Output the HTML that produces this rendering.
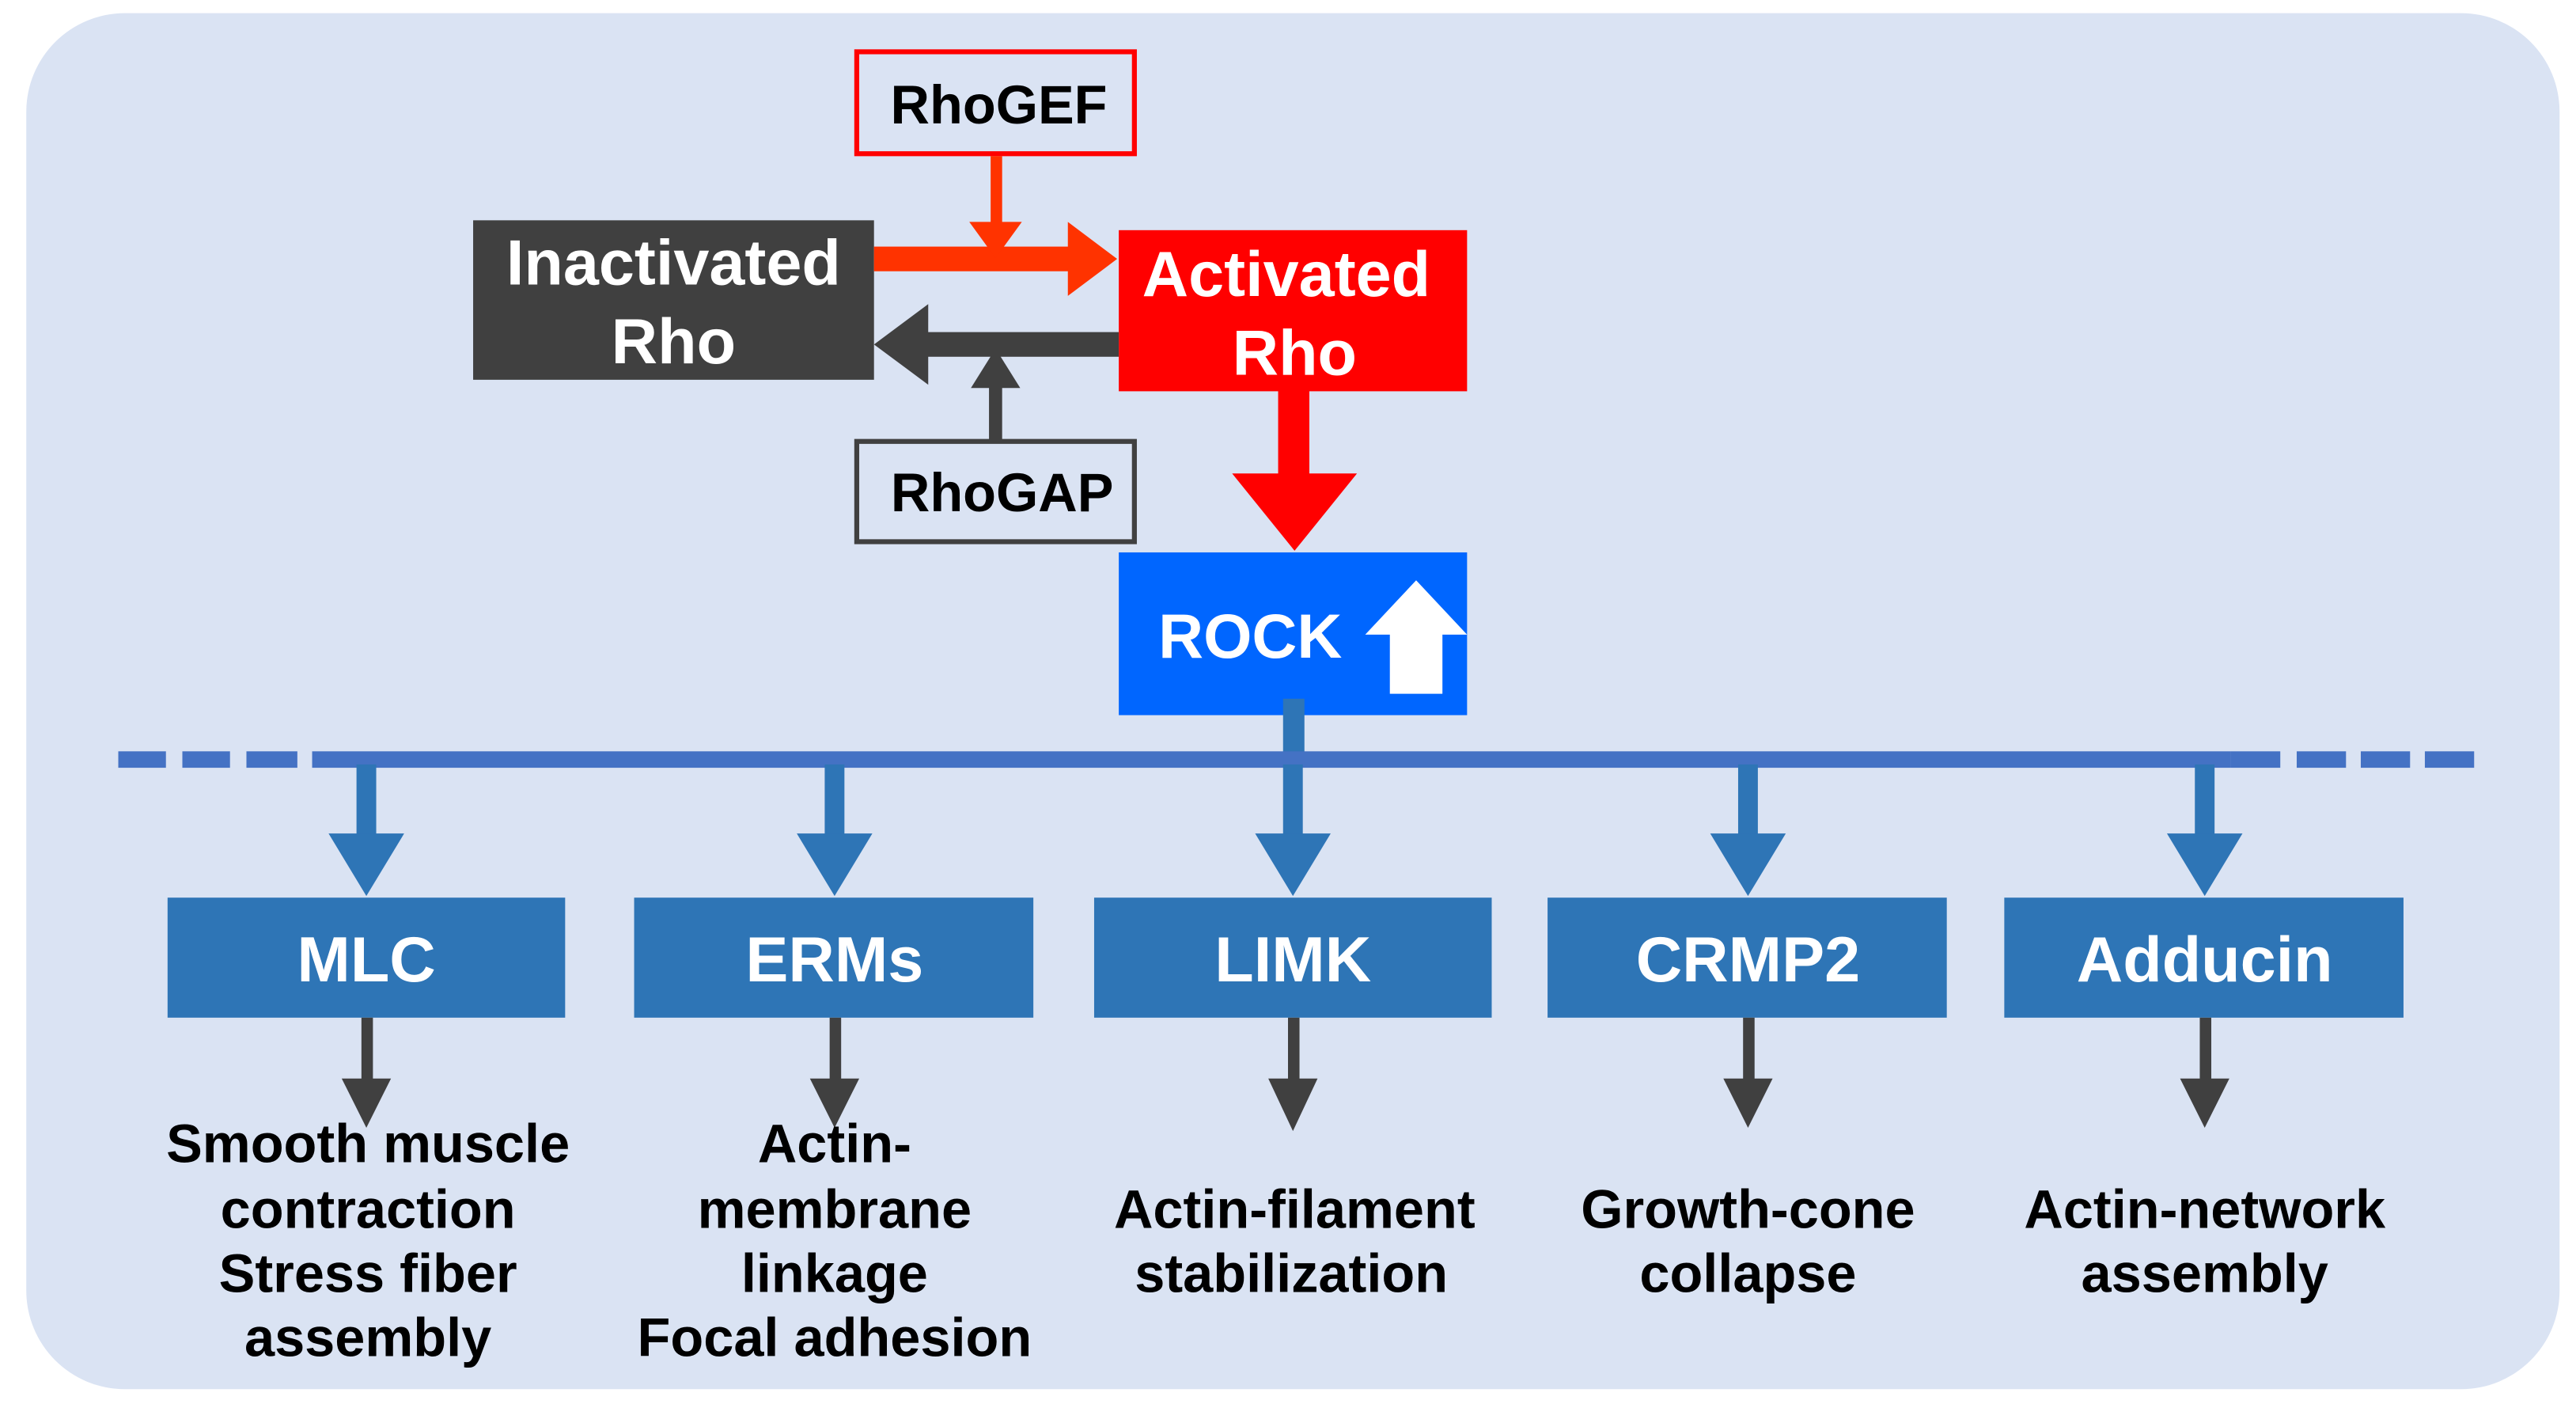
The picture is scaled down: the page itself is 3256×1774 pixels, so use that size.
<!DOCTYPE html>
<html><head><meta charset="utf-8"><style>html,body{margin:0;padding:0;background:#fff}svg{display:block}</style></head>
<body>
<svg width="3256" height="1774" viewBox="0 0 1568 854" preserveAspectRatio="none" xmlns="http://www.w3.org/2000/svg" font-family="'Liberation Sans', Arial, sans-serif" font-weight="bold">
<rect x="16" y="8" width="1542" height="837" rx="60" fill="#dae3f3"/>
<!-- RhoGEF -->
<rect x="521.5" y="31.5" width="169" height="62" fill="#dae3f3" stroke="#ff0000" stroke-width="3"/>
<text x="608" y="75" font-size="33" text-anchor="middle" fill="#000">RhoGEF</text>
<!-- Inactivated Rho -->
<rect x="288" y="134" width="244" height="97" fill="#404040"/>
<text x="410" y="173" font-size="39" text-anchor="middle" fill="#fff">Inactivated</text>
<text x="410" y="221" font-size="39" text-anchor="middle" fill="#fff">Rho</text>
<!-- Activated Rho -->
<rect x="681" y="140" width="212" height="98" fill="#ff0000"/>
<text x="783" y="180" font-size="39" text-anchor="middle" fill="#fff">Activated</text>
<text x="788" y="228" font-size="39" text-anchor="middle" fill="#fff">Rho</text>
<!-- orange arrow -->
<rect x="532" y="150" width="120" height="15" fill="#ff3300"/>
<polygon points="650,135 680,157.5 650,180" fill="#ff3300"/>
<rect x="603" y="95" width="7" height="42" fill="#ff3300"/>
<polygon points="590,135 622,135 606,157" fill="#ff3300"/>
<!-- dark arrow -->
<rect x="563" y="202" width="118" height="15" fill="#404040"/>
<polygon points="565,185 532,209.5 565,234" fill="#404040"/>
<rect x="602" y="233" width="8" height="36" fill="#404040"/>
<polygon points="591,236 621,236 606,212" fill="#404040"/>
<!-- RhoGAP -->
<rect x="521.5" y="268.5" width="169" height="61" fill="#dae3f3" stroke="#404040" stroke-width="3"/>
<text x="610" y="311" font-size="33" text-anchor="middle" fill="#000">RhoGAP</text>
<!-- red down arrow -->
<rect x="778" y="236" width="19" height="54" fill="#ff0000"/>
<polygon points="750,288 826,288 788,335" fill="#ff0000"/>
<!-- ROCK -->
<rect x="681" y="336" width="212" height="99" fill="#0066ff"/>
<text x="761" y="400" font-size="38" text-anchor="middle" fill="#fff">ROCK</text>
<rect x="846" y="384" width="32" height="38" fill="#fff"/>
<polygon points="831,386 893,386 862,353" fill="#fff"/>
<!-- stem -->
<rect x="781" y="425" width="13" height="38" fill="#2e75b6"/>
<!-- horizontal line -->
<g fill="#4472c4">
<rect x="72" y="457" width="29" height="10"/>
<rect x="111" y="457" width="29" height="10"/>
<rect x="150" y="457" width="31" height="10"/>
<rect x="190" y="457" width="1168" height="10"/>
<rect x="1358" y="457" width="30" height="10"/>
<rect x="1398" y="457" width="30" height="10"/>
<rect x="1437" y="457" width="30" height="10"/>
<rect x="1476" y="457" width="30" height="10"/>
</g>
<!-- branches -->
<g fill="#2e75b6">
<rect x="217" y="465" width="12" height="44"/><polygon points="200,507 246,507 223,545"/>
<rect x="502" y="465" width="12" height="44"/><polygon points="485,507 531,507 508,545"/>
<rect x="781" y="465" width="12" height="44"/><polygon points="764,507 810,507 787,545"/>
<rect x="1058" y="465" width="12" height="44"/><polygon points="1041,507 1087,507 1064,545"/>
<rect x="1336" y="465" width="12" height="44"/><polygon points="1319,507 1365,507 1342,545"/>
<rect x="102" y="546" width="242" height="73"/>
<rect x="386" y="546" width="243" height="73"/>
<rect x="666" y="546" width="242" height="73"/>
<rect x="942" y="546" width="243" height="73"/>
<rect x="1220" y="546" width="243" height="73"/>
</g>
<g fill="#fff" font-size="39" text-anchor="middle">
<text x="223" y="597">MLC</text>
<text x="508" y="597">ERMs</text>
<text x="787" y="597">LIMK</text>
<text x="1064" y="597">CRMP2</text>
<text x="1342" y="597">Adducin</text>
</g>
<!-- dark down arrows -->
<g fill="#404040">
<rect x="220" y="619" width="7" height="40"/><polygon points="208,656 238,656 223,686"/>
<rect x="505" y="619" width="7" height="40"/><polygon points="493,656 523,656 508,686"/>
<rect x="784" y="619" width="7" height="40"/><polygon points="772,656 802,656 787,688"/>
<rect x="1061" y="619" width="7" height="40"/><polygon points="1049,656 1079,656 1064,686"/>
<rect x="1339" y="619" width="7" height="40"/><polygon points="1327,656 1357,656 1342,686"/>
</g>
<g fill="#000" font-size="33" text-anchor="middle">
<text x="224" y="707">Smooth muscle</text>
<text x="224" y="747">contraction</text>
<text x="224" y="786">Stress fiber</text>
<text x="224" y="825">assembly</text>
<text x="508" y="707">Actin-</text>
<text x="508" y="747">membrane</text>
<text x="508" y="786">linkage</text>
<text x="508" y="825">Focal adhesion</text>
<text x="788" y="747">Actin-filament</text>
<text x="786" y="786">stabilization</text>
<text x="1064" y="747">Growth-cone</text>
<text x="1064" y="786">collapse</text>
<text x="1342" y="747">Actin-network</text>
<text x="1342" y="786">assembly</text>
</g>
</svg>
</body></html>
